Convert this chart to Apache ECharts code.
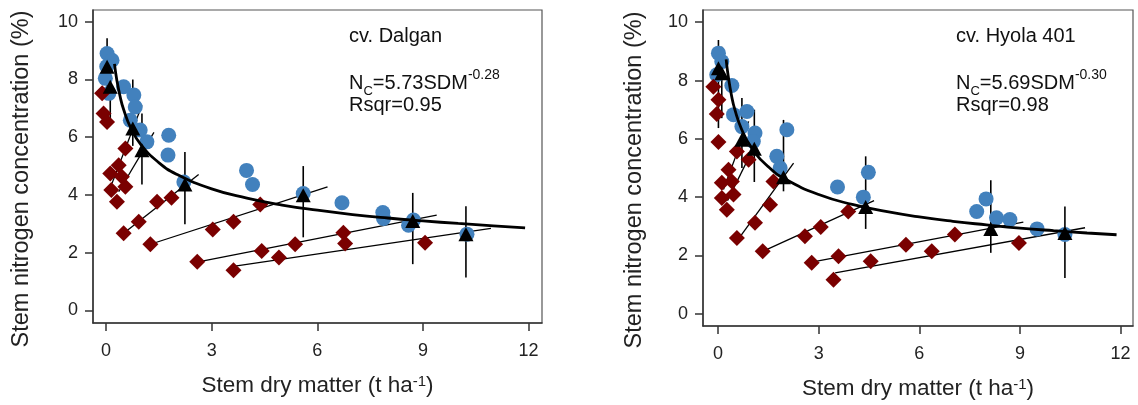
<!DOCTYPE html>
<html>
<head>
<meta charset="utf-8">
<script src="https://cdn.jsdelivr.net/npm/echarts@6/dist/echarts.min.js"></script>
<style>
html,body{margin:0;padding:0;background:#fff;}
#chart{width:1138px;height:405px;}
</style>
</head>
<body>
<div id="chart"></div>
<script>
// ---------- DATA ----------
const xTicks = [0, 3, 6, 9, 12];
const yTicks = [0, 2, 4, 6, 8, 10];
const xTitle = 'Stem dry matter (t ha{s|-1})';
const yTitle = 'Stem nitrogen concentration (%)';

// cv. Dalgan
const dalganBlue = [[0.03,8.90],[0.17,8.67],[0.02,8.45],[-0.02,8.04],[0.08,7.52],[0.50,7.75],[0.79,7.46],[0.83,7.05],[0.69,6.59],[0.97,6.25],[1.16,5.84],[1.78,6.07],[1.76,5.38],[2.21,4.45],[3.99,4.85],[4.16,4.36],[5.60,4.05],[6.70,3.73],[7.86,3.39],[7.88,3.18],[8.59,2.95],[8.73,3.13],[10.25,2.64]];
const dalganRed = [[-0.11,7.52],[-0.07,6.82],[0.03,6.53],[0.55,5.61],[0.36,5.03],[0.12,4.74],[0.45,4.63],[0.15,4.17],[0.55,4.28],[0.31,3.76],[1.45,3.76],[1.86,3.90],[0.93,3.07],[0.50,2.67],[1.26,2.29],[3.03,2.80],[3.62,3.07],[4.38,3.67],[2.59,1.68],[4.42,2.06],[4.91,1.83],[5.37,2.29],[3.62,1.39],[6.74,2.69],[6.79,2.32],[9.06,2.34]];
// [x, mean, low, high]
const dalganMean = [[0.03,8.44,7.50,9.43],[0.12,7.75,6.65,8.96],[0.76,6.30,5.70,8.00],[1.02,5.55,4.36,6.82],[2.24,4.36,2.98,5.49],[5.60,3.99,2.53,5.00],[8.71,3.10,1.60,4.07],[10.22,2.64,1.14,3.61]];
// [x1, y1, x2, y2]
const dalganFits = [[0.17,4.40,1.02,7.11],[0.36,4.11,1.36,6.17],[0.50,2.67,2.63,4.71],[1.26,2.29,6.29,4.28],[2.62,1.68,9.39,3.30],[3.66,1.53,10.93,2.84]];
const dalganCurveX = [0.24,0.3,0.4,0.5,0.7,1,1.5,2,3,4,5,6,7,8,9,10,11,11.9];
const dalganCurveY = [8.54,8.03,7.41,6.96,6.33,5.73,5.12,4.72,4.21,3.89,3.65,3.47,3.32,3.20,3.10,3.01,2.93,2.86];

// cv. Hyola 401
const hyolaBlue = [[0.01,8.94],[0.11,8.65],[-0.04,8.20],[0.41,7.83],[0.46,6.83],[0.86,6.94],[0.71,6.42],[1.10,6.20],[1.05,5.91],[2.05,6.31],[1.75,5.40],[1.85,5.00],[3.56,4.35],[4.48,4.85],[4.33,4.00],[7.71,3.51],[7.99,3.94],[8.30,3.29],[8.70,3.23],[9.51,2.91],[10.34,2.72]];
const hyolaRed = [[-0.14,7.79],[0.01,7.34],[-0.04,6.85],[0.01,5.89],[0.56,5.57],[0.91,5.28],[0.31,4.94],[0.11,4.49],[0.41,4.54],[0.11,3.97],[0.46,4.09],[0.26,3.57],[1.65,4.54],[1.55,3.74],[1.10,3.12],[0.56,2.60],[1.33,2.14],[2.59,2.66],[3.06,2.98],[3.88,3.51],[2.79,1.75],[3.59,1.97],[4.55,1.80],[3.44,1.17],[5.60,2.37],[6.37,2.14],[7.06,2.72],[8.97,2.43]];
const hyolaMean = [[0.01,8.42,6.37,9.39],[0.11,8.25,6.71,9.16],[0.71,5.97,5.00,7.40],[1.08,5.66,4.52,7.00],[1.95,4.68,4.20,6.65],[4.40,3.66,2.91,5.40],[8.13,2.91,2.09,4.58],[10.34,2.77,1.23,3.68]];
const hyolaFits = [[0.16,4.26,0.91,6.60],[0.28,3.88,1.30,6.25],[0.56,2.49,2.25,5.17],[1.33,2.14,4.65,3.88],[2.79,1.77,9.10,3.14],[3.49,1.40,10.94,2.95]];
const hyolaCurveX = [0.24,0.3,0.4,0.5,0.7,1,1.5,2,3,4,5,6,7,8,9,10,11,11.88];
const hyolaCurveY = [8.73,8.17,7.49,7.00,6.33,5.69,5.04,4.62,4.09,3.75,3.51,3.32,3.17,3.05,2.94,2.85,2.77,2.71];

// ---------- STYLE ----------
const FONT = 'Liberation Sans, Arial, sans-serif';
const BLUE = '#4281BD';
const RED = '#7A0000';

const chart = echarts.init(document.getElementById('chart'), null, {renderer: 'canvas'});

function xAxisCfg(gi, min, max) {
  return {
    gridIndex: gi, type: 'value', min: min, max: max,
    axisLine: {show: true, onZero: false, lineStyle: {color: '#333', width: 1.5}},
    axisTick: {show: true, length: 8, customValues: xTicks, lineStyle: {color: '#333', width: 1.5}},
    axisLabel: {customValues: xTicks, fontSize: 18, fontFamily: FONT, color: '#222', margin: 19},
    splitLine: {show: false},
    name: xTitle,
    nameLocation: 'middle', nameGap: 51,
    nameTextStyle: {fontSize: 22.5, fontFamily: FONT, color: '#222',
      rich: {s: {fontSize: 15, fontFamily: FONT, color: '#222', verticalAlign: 'top', lineHeight: 12}}}
  };
}
function yAxisCfg(gi, min, max) {
  return {
    gridIndex: gi, type: 'value', min: min, max: max,
    axisLine: {show: true, onZero: false, lineStyle: {color: '#333', width: 1.5}},
    axisTick: {show: true, length: 8, customValues: yTicks, lineStyle: {color: '#333', width: 1.5}},
    axisLabel: {customValues: yTicks, fontSize: 18, fontFamily: FONT, color: '#222', margin: 15},
    splitLine: {show: false}
  };
}

function errRender(params, api) {
  const x = api.value(0);
  const lo = api.coord([x, api.value(2)]);
  const hi = api.coord([x, api.value(3)]);
  return {type: 'line', shape: {x1: lo[0], y1: lo[1], x2: hi[0], y2: hi[1]},
    style: {stroke: '#000', lineWidth: 1.6}};
}
function segRender(params, api) {
  const a = api.coord([api.value(0), api.value(1)]);
  const b = api.coord([api.value(2), api.value(3)]);
  return {type: 'line', shape: {x1: a[0], y1: a[1], x2: b[0], y2: b[1]},
    style: {stroke: '#000', lineWidth: 1.3}};
}
function zip(xs, ys) { return xs.map((x, i) => [x, ys[i]]); }

function panelSeries(gi, blue, red, mean, fits, cx, cy) {
  return [
    {type: 'scatter', xAxisIndex: gi, yAxisIndex: gi, data: blue, symbol: 'circle', symbolSize: 15,
      itemStyle: {color: BLUE, opacity: 1}, silent: true},
    {type: 'scatter', xAxisIndex: gi, yAxisIndex: gi, data: red, symbol: 'diamond', symbolSize: 16,
      itemStyle: {color: RED, opacity: 1}, silent: true},
    {type: 'custom', xAxisIndex: gi, yAxisIndex: gi, data: fits, renderItem: segRender,
      encode: {x: [0, 2], y: [1, 3]}, silent: true},
    {type: 'line', xAxisIndex: gi, yAxisIndex: gi, data: zip(cx, cy), smooth: true, showSymbol: false,
      lineStyle: {color: '#000', width: 2.8}, silent: true},
    {type: 'custom', xAxisIndex: gi, yAxisIndex: gi, data: mean, renderItem: errRender,
      encode: {x: 0, y: [2, 3]}, silent: true},
    {type: 'scatter', xAxisIndex: gi, yAxisIndex: gi, data: mean.map(d => [d[0], d[1]]),
      symbol: 'triangle', symbolSize: [15, 14], itemStyle: {color: '#000', opacity: 1}, silent: true}
  ];
}

const richEq = {
  n: {fontSize: 20, fontFamily: FONT, fill: '#111', lineHeight: 30},
  s: {fontSize: 13, fontFamily: FONT, fill: '#111', verticalAlign: 'bottom', lineHeight: 24},
  p: {fontSize: 14, fontFamily: FONT, fill: '#111', verticalAlign: 'top', lineHeight: 10}
};

const yTitleStyle = {text: yTitle, font: '23.5px ' + FONT, fill: '#222', align: 'center', verticalAlign: 'middle'};

const option = {
  animation: false,
  backgroundColor: '#fff',
  grid: [
    {left: 93, top: 10, width: 449, height: 313, show: true, borderColor: '#555', borderWidth: 1.2, containLabel: false},
    {left: 703, top: 10, width: 430, height: 317, show: true, borderColor: '#555', borderWidth: 1.2, containLabel: false}
  ],
  xAxis: [xAxisCfg(0, -0.37, 12.38), xAxisCfg(1, -0.45, 12.37)],
  yAxis: [yAxisCfg(0, -0.44, 10.41), yAxisCfg(1, -0.42, 10.42)],
  series: [].concat(
    panelSeries(0, dalganBlue, dalganRed, dalganMean, dalganFits, dalganCurveX, dalganCurveY),
    panelSeries(1, hyolaBlue, hyolaRed, hyolaMean, hyolaFits, hyolaCurveX, hyolaCurveY)
  ),
  graphic: [
    {type: 'text', x: 22, y: 179, rotation: Math.PI / 2, style: yTitleStyle},
    {type: 'text', x: 635, y: 180, rotation: Math.PI / 2, style: yTitleStyle},
    {type: 'text', left: 349, top: 26, style: {text: 'cv. Dalgan', font: '20px ' + FONT, fill: '#111'}},
    {type: 'text', left: 349, top: 68, style: {text: '{n|N}{s|C}{n|=5.73SDM}{p|-0.28}', rich: richEq}},
    {type: 'text', left: 349, top: 95, style: {text: 'Rsqr=0.95', font: '20px ' + FONT, fill: '#111'}},
    {type: 'text', left: 956, top: 26, style: {text: 'cv. Hyola 401', font: '20px ' + FONT, fill: '#111'}},
    {type: 'text', left: 956, top: 68, style: {text: '{n|N}{s|C}{n|=5.69SDM}{p|-0.30}', rich: richEq}},
    {type: 'text', left: 956, top: 95, style: {text: 'Rsqr=0.98', font: '20px ' + FONT, fill: '#111'}}
  ]
};
chart.setOption(option);
</script>
</body>
</html>
